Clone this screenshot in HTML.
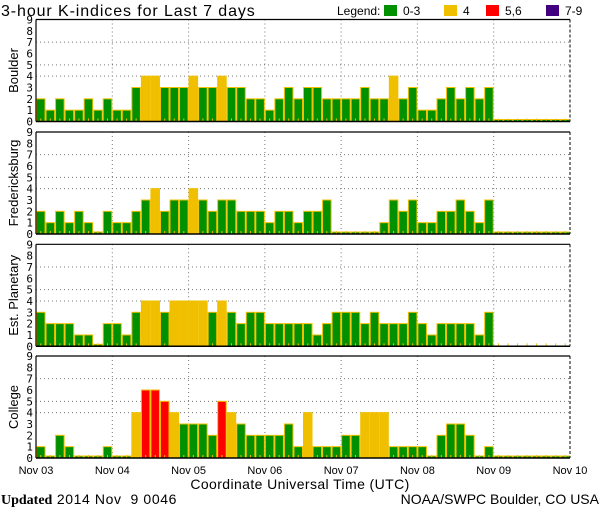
<!DOCTYPE html>
<html><head><meta charset="utf-8"><style>
body{margin:0;background:#fff;}
svg{display:block;font-family:"DejaVu Sans Mono","Liberation Mono",monospace;}
</style></head><body>
<svg id="chart" width="600" height="510" viewBox="0 0 600 510" xmlns="http://www.w3.org/2000/svg">
<text x="1" y="16" font-size="16" letter-spacing="0.9" font-family="Liberation Sans, sans-serif">3-hour K-indices for Last 7 days</text>
<g font-size="12" font-family="Liberation Sans, sans-serif">
<text x="337" y="15">Legend:</text>
<rect x="384" y="5" width="13" height="11" fill="#009000"/><text x="403" y="15">0-3</text>
<rect x="444" y="5" width="13" height="11" fill="#f0c000"/><text x="463" y="15">4</text>
<rect x="486" y="5" width="13" height="11" fill="#ff0000"/><text x="505" y="15">5,6</text>
<rect x="546" y="5" width="13" height="11" fill="#400080"/><text x="565" y="15">7-9</text>
</g>
<g id="plots"></g>
<text x="300" y="489" text-anchor="middle" font-size="14" letter-spacing="0.4" font-family="Liberation Sans, sans-serif">Coordinate Universal Time (UTC)</text>
<text x="1" y="504" font-size="14" xml:space="preserve"><tspan font-weight="bold" font-family="Liberation Serif, serif">Updated</tspan><tspan font-family="Liberation Sans, sans-serif" letter-spacing="0.6"> 2014 Nov  9 0046</tspan></text>
<text x="599" y="504" text-anchor="end" font-size="14" font-family="Liberation Sans, sans-serif">NOAA/SWPC Boulder, CO USA</text>
</svg>
<script>
const dayLabels = ["Nov 03","Nov 04","Nov 05","Nov 06","Nov 07","Nov 08","Nov 09","Nov 10"];
const yTicks = [0,1,2,3,4,5,6,7,8,9];
const stationNames = ["Boulder","Fredericksburg","Est. Planetary","College"];
const boulder = [2,1,2,1,1,2,1,2, 1,1,3,4,4,3,3,3, 4,3,3,4,3,3,2,2, 1,2,3,2,3,3,2,2, 2,2,3,2,2,4,2,3, 1,1,2,3,2,3,2,3, 0,0,0,0,0,0,0,0];
const fredericksburg = [2,1,2,1,2,1,0,2, 1,1,2,3,4,2,3,3, 4,3,2,3,3,2,2,2, 1,2,2,1,2,2,3,0, 0,0,0,0,1,3,2,3, 1,1,2,2,3,2,1,3, 0,0,0,0,0,0,0,0];
const planetary = [3,2,2,2,1,1,0,2, 2,1,3,4,4,3,4,4, 4,4,3,4,3,2,3,3, 2,2,2,2,2,1,2,3, 3,3,2,3,2,2,2,3, 2,1,2,2,2,2,1,3];
const college = [1,0,2,1,0,0,0,1, 0,0,4,6,6,5,4,3, 3,3,2,5,4,3,2,2, 2,2,3,1,4,1,1,1, 2,2,4,4,4,1,1,1, 1,0,2,3,3,2,0,1, 0,0,0,0,0,0,0,0];
const series = [boulder, fredericksburg, planetary, college];

const NS="http://www.w3.org/2000/svg";
const g=document.getElementById('plots');
const X0=36, X1=570, NBARS=56;
const tops=[19.5,132,244.3,356], H=102;
function el(t,a,p){const e=document.createElementNS(NS,t);for(const k in a)e.setAttribute(k,a[k]);(p||g).appendChild(e);return e;}
function xs(i){return X0+(X1-X0)*i/NBARS;}
function color(v){return v>=7?"#400080":v>=5?"#ff0000":v>=4?"#f0c000":"#009000";}
series.forEach((data,pi)=>{
  const top=tops[pi], bot=top+H;
  const ys=v=>bot-H*v/9;
  const pg=el('g',{});
  
  
  [4,5,7].forEach(v=>{const l=el('line',{x1:X0,x2:X1,y1:ys(v),y2:ys(v),stroke:'#777','stroke-dasharray':'1 3'},pg);
    });
  for(let d=1;d<7;d++){const x=xs(d*8);const l=el('line',{x1:x,x2:x,y1:top,y2:bot,stroke:'#777','stroke-dasharray':'1 3'},pg);
    }
  data.forEach((v,i)=>{
    const x=xs(i), w=xs(i+1)-xs(i);
    const hgt=Math.max(H*v/9,2);
    const r=el('rect',{x:x+0.5,y:bot-hgt,width:w-1,height:hgt,fill:color(v),stroke:'#f0c000','stroke-width':1},pg);
    
    
  });
  for(let i=0;i<NBARS;i++){const x=xs(i+0.5);el('line',{x1:x,x2:x,y1:bot-3,y2:bot,stroke:'#f0c000'},pg);}
  el('line',{x1:X0,x2:X1,y1:top,y2:top,stroke:'#000','stroke-width':1.2},pg);
  el('line',{x1:X0,x2:X1,y1:bot,y2:bot,stroke:'#000','stroke-width':1.5},pg);
  el('line',{x1:X0,x2:X0,y1:top,y2:bot,stroke:'#000','stroke-width':1.2},pg);
  el('line',{x1:X1,x2:X1,y1:top,y2:bot,stroke:'#000','stroke-dasharray':'3 2'},pg);
  yTicks.forEach(v=>{const t=el('text',{x:33,y:ys(v)+4,'text-anchor':'end','font-size':11},pg);t.textContent=v;
    });
  const yt=el('text',{transform:`translate(18,${top+H/2}) rotate(-90)`,'text-anchor':'middle','font-size':13,'font-family':'Liberation Sans, sans-serif'},pg);
  yt.textContent=stationNames[pi];
  
  
});
dayLabels.forEach((s,d)=>{const t=el('text',{x:xs(d*8),y:474,'text-anchor':'middle','font-size':11,'font-family':'Liberation Sans, sans-serif'});t.textContent=s;
  });
</script>
</body></html>
